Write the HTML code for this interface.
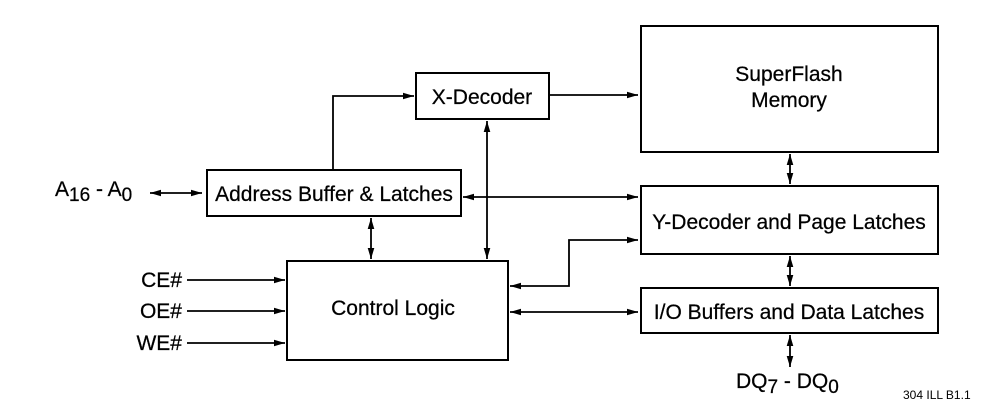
<!DOCTYPE html>
<html><head><meta charset="utf-8"><style>
html,body{margin:0;padding:0;background:#fff}
svg text{font-family:"Liberation Sans",Arial,sans-serif;fill:#000}
</style></head><body>
<svg width="1007" height="407" viewBox="0 0 1007 407" xmlns="http://www.w3.org/2000/svg">
<defs>
<marker id="a" viewBox="0 0 10 6" refX="10" refY="3" markerWidth="11" markerHeight="7" markerUnits="userSpaceOnUse" orient="auto-start-reverse"><path d="M0,0 L10,3 L0,6 z" fill="#000"/></marker>
</defs>
<g fill="none" stroke="#000" stroke-width="2">
<rect x="416" y="73" width="133" height="46"/>
<rect x="207" y="170" width="254" height="46"/>
<rect x="287" y="261" width="221" height="99"/>
<rect x="641" y="26" width="297" height="126"/>
<rect x="641" y="186" width="297" height="68"/>
<rect x="641" y="288" width="297" height="45"/>
</g>
<g fill="none" stroke="#000" stroke-width="1.8">
<line x1="150" y1="193" x2="202" y2="193" marker-start="url(#a)" marker-end="url(#a)"/>
<polyline points="333,169 333,96 414,96" marker-end="url(#a)"/>
<line x1="549" y1="95" x2="638" y2="95" marker-end="url(#a)"/>
<line x1="487" y1="121" x2="487" y2="259" marker-start="url(#a)" marker-end="url(#a)"/>
<line x1="463" y1="197" x2="638" y2="197" marker-start="url(#a)" marker-end="url(#a)"/>
<line x1="371" y1="218" x2="371" y2="259" marker-start="url(#a)" marker-end="url(#a)"/>
<polyline points="510,286 569,286 569,240 638,240" marker-start="url(#a)" marker-end="url(#a)"/>
<line x1="510" y1="312" x2="638" y2="312" marker-start="url(#a)" marker-end="url(#a)"/>
<line x1="790" y1="154" x2="790" y2="184" marker-start="url(#a)" marker-end="url(#a)"/>
<line x1="790" y1="256" x2="790" y2="286" marker-start="url(#a)" marker-end="url(#a)"/>
<line x1="790" y1="335" x2="790" y2="367" marker-start="url(#a)" marker-end="url(#a)"/>
<line x1="187" y1="280" x2="285" y2="280" marker-end="url(#a)"/>
<line x1="187" y1="311" x2="285" y2="311" marker-end="url(#a)"/>
<line x1="187" y1="343" x2="285" y2="343" marker-end="url(#a)"/>
</g>
<g font-size="21" stroke="#000" stroke-width="0.25">
<text x="482" y="104" text-anchor="middle">X-Decoder</text>
<text x="334" y="201" text-anchor="middle">Address Buffer &amp; Latches</text>
<text x="393" y="315" text-anchor="middle">Control Logic</text>
<text x="789" y="81" text-anchor="middle">SuperFlash</text>
<text x="789" y="107" text-anchor="middle">Memory</text>
<text x="789" y="229" text-anchor="middle">Y-Decoder and Page Latches</text>
<text x="789" y="319" text-anchor="middle">I/O Buffers and Data Latches</text>
<text x="182" y="287" text-anchor="end">CE#</text>
<text x="182" y="318" text-anchor="end">OE#</text>
<text x="182" y="350" text-anchor="end">WE#</text>
<text x="55" y="196">A<tspan font-size="19" dy="5">16</tspan><tspan dy="-5"> - A</tspan><tspan font-size="19" dy="5">0</tspan></text>
<text x="736" y="388">DQ<tspan font-size="19" dy="5">7</tspan><tspan dy="-5"> - DQ</tspan><tspan font-size="19" dy="5">0</tspan></text>
</g>
<text x="903" y="399" font-size="12">304 ILL B1.1</text>
</svg>
</body></html>
